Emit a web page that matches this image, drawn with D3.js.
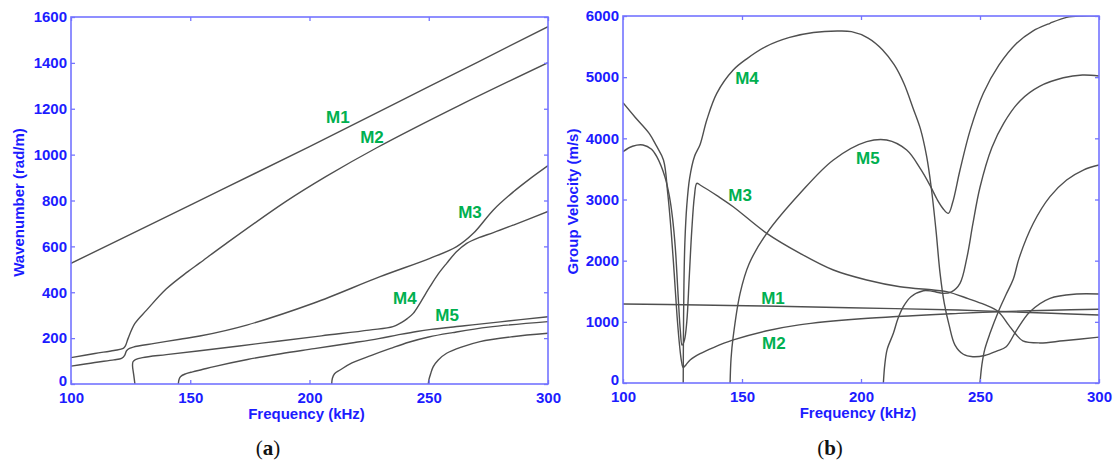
<!DOCTYPE html>
<html>
<head>
<meta charset="utf-8">
<script src="https://cdn.jsdelivr.net/npm/d3@7"></script>
<style>
  body { margin: 0; background: #fff; }
</style>
</head>
<body>
<div id="my_dataviz"></div>
<script>
const width = 1115
const height = 466

// tick values
const freqTicks = [100, 150, 200, 250, 300];
const waveTicks = [0, 200, 400, 600, 800, 1000, 1200, 1400, 1600];
const velTicks = [0, 1000, 2000, 3000, 4000, 5000, 6000];

// (a) wavenumber curves, [frequency kHz, wavenumber rad/m]
const waveM1 = [[100,526],[150,780],[200,1035],[250,1296],[300,1558]];
const waveM2 = [[100,115],[110,133],[118,146],[121.9,155],[122.8,166],[124,200],[126.8,264],[131.7,322],[140,415],[149,490],[154,528],[165,612],[190,795],[207,905],[228.2,1030],[263.1,1216],[300,1401]];
const waveM3 = [[100,78],[110,94],[118,105],[121.2,112],[122.5,125],[123.3,145],[124.5,155],[126.1,161],[135,177],[145.7,195],[154,209],[173.7,257],[201.6,352],[229.6,468],[250.5,548],[261.7,599],[268.7,657],[277.1,759],[285.5,838],[291.7,889],[300,952]];
const waveM4 = [[126.8,0],[126.3,40],[125.8,80],[126,97],[127,106],[130,115],[140,128],[154,145],[180,178],[205,210],[225,235],[235,250],[238.5,268],[241,285],[243.5,308],[246.3,352],[250.5,424],[254,480],[257.5,526],[261.5,575],[265.9,613],[271,638],[277.1,660],[285.5,693],[300,752]];
const waveM5 = [[145,0],[145.3,20],[146,33],[148,44],[151,53],[155,63],[160,76],[174,107],[188,132],[202,154],[219,181],[229,198],[237,214],[245,229],[251,238],[265,254],[280,271],[300,293]];
const waveM6 = [[209.3,0],[209.6,25],[210.5,45],[212.8,61],[217.8,92],[226,125],[234,155],[241.6,182],[250,205],[260,224],[275,248],[300,272]];
const waveM7 = [[249.8,0],[250.1,20],[250.8,45],[251.9,76],[254,105],[257.5,134],[264,162],[271.5,185],[285,206],[300,221]];

// (b) group velocity curves, [frequency kHz, velocity m/s]
const velM1 = [[100,1292],[132,1275],[160,1258],[195,1231],[241,1193],[258,1170],[280,1140],[300,1112]];
const velM2 = [[100,4583],[105,4350],[111,4082],[114,3880],[117,3646],[118.8,3100],[120.2,2500],[121.5,1800],[122.7,1100],[123.8,600],[124.6,350],[125.3,256],[126.5,300],[128.2,376],[132.4,480],[138,580],[146,700],[160,850],[174,950],[200,1050],[241,1139],[258,1166],[280,1190],[300,1205]];
const velM3 = [[100,3782],[104,3870],[108.4,3891],[112,3820],[114.2,3700],[117.6,3373],[119.5,3050],[120.8,2700],[122,2200],[123.2,1400],[124.1,850],[124.8,620],[125.8,700],[126.8,1000],[127.8,1700],[128.9,2500],[130,3050],[131,3265],[132.4,3237],[140,3050],[146.3,2882],[160.4,2447],[174.4,2120],[188.4,1847],[202.4,1684],[216.4,1574],[230.4,1520],[236,1493],[245,1380],[252,1280],[257.7,1166],[262,950],[265,800],[268,690],[275,655],[285,690],[300,750]];
const velM4 = [[125.3,0],[125.4,800],[125.6,1600],[126,2300],[126.8,2900],[128,3350],[130,3700],[132.4,3900],[135.2,4300],[139.4,4736],[146.3,5117],[152,5300],[160,5500],[170,5650],[180,5730],[190,5755],[196,5744],[203,5640],[209,5450],[214,5200],[218,4900],[222,4480],[225,4150],[227.6,3700],[229.5,3200],[231.5,2500],[233.2,1800],[235,1300],[237,950],[239.5,620],[243,470],[247,430],[252,450],[257,520],[261,593],[265.4,866],[271,1166],[279.4,1385],[290.6,1455],[300,1455]];
const velM5 = [[145,0],[145.4,400],[146.3,757],[149.2,1466],[153,1950],[160.4,2447],[174.4,3101],[188.4,3646],[202.4,3945],[210.8,3973],[219.2,3809],[225,3500],[229,3230],[232,3000],[234.5,2850],[236.7,2774],[238.5,2950],[241.6,3482],[246,4150],[251.4,4736],[258,5200],[265.4,5554],[272,5750],[279.4,5881],[286.4,5978],[293,6000],[300,6000]];
const velM6 = [[209.4,0],[210,300],[211,550],[213.6,812],[215.5,1050],[217.8,1248],[221,1410],[226.2,1509],[230,1500],[234.6,1466],[238,1490],[241.6,1630],[244.5,2050],[247,2600],[250,3200],[255,3850],[260,4250],[267,4620],[275,4850],[285,4990],[293,5035],[300,5020]];
const velM7 = [[250,0],[250.8,300],[252,550],[254.2,812],[257.7,1166],[261,1450],[264,1700],[266.5,2050],[272.4,2611],[279.4,3046],[286.4,3319],[293.4,3482],[300,3564]];

// mode labels, [text, frequency, value]
const waveLabels = [["M1",211.9,1164],["M2",226.2,1077],["M3",267.3,750],["M4",240,375],["M5",257.7,301]];
const velLabels = [["M4",152.1,4986],["M5",202.9,3678],["M3",149.2,3074],["M1",163,1390],["M2",163.4,654]];

const frameBlue = "#7474ff"
const textBlue = "#1c1cff"
const modeGreen = "#00b050"
const curveGrey = "#4f4f4f"
const sans = "'Liberation Sans', Arial, sans-serif"

document.addEventListener('DOMContentLoaded', function () {
    var svg = d3.select("#my_dataviz").append("svg")
        .attr("width", width)
        .attr("height", height)

    drawPanel(svg, {left: 71, right: 548, top: 17, bottom: 384}, 1600, waveTicks,
        "Wavenumber (rad/m)", 19,
        [waveM1, waveM2, waveM3, waveM4, waveM5, waveM6, waveM7], waveLabels, "a", 268)

    drawPanel(svg, {left: 623, right: 1099, top: 16, bottom: 383}, 6000, velTicks,
        "Group Velocity (m/s)", 573,
        [velM1, velM2, velM3, velM4, velM5, velM6, velM7], velLabels, "b", 830)
});

function styleAxis(g) {
    g.select(".domain").remove()
    g.style("color", frameBlue)
    g.selectAll(".tick line").attr("stroke-width", 1.3)
    g.selectAll("text")
        .attr("fill", textBlue)
        .style("font-family", sans)
        .style("font-size", "15px")
        .style("font-weight", "bold")
}

function drawPanel(svg, box, yMax, yTicks, yTitle, yTitleX, modes, labels, letter, letterX) {
    var xScale = d3.scaleLinear().domain([100, 300]).range([box.left, box.right]);
    var yScale = d3.scaleLinear().domain([0, yMax]).range([box.bottom, box.top]);
    var plain = d3.format("d")

    var clipId = "clip_" + letter
    svg.append("clipPath").attr("id", clipId)
        .append("rect")
        .attr("x", box.left)
        .attr("y", box.top)
        .attr("width", box.right - box.left)
        .attr("height", box.bottom - box.top)

    var line = d3.line()
        .x(function(d){return xScale(d[0])})
        .y(function(d){return yScale(d[1])})
        .curve(d3.curveCatmullRom.alpha(0.5))

    svg.append("g")
        .attr("clip-path", "url(#" + clipId + ")")
        .selectAll("path")
        .data(modes)
        .join("path")
            .attr("d", line)
            .attr("fill", "none")
            .attr("stroke", curveGrey)
            .attr("stroke-width", 1.4)

    // inward ticks on all four sides
    svg.append("g")
        .attr("transform", "translate(0," + box.bottom + ")")
        .call(d3.axisBottom(xScale).tickValues(freqTicks).tickFormat(plain).tickSizeInner(-4).tickSizeOuter(0).tickPadding(8))
        .call(styleAxis)
    svg.append("g")
        .attr("transform", "translate(0," + box.top + ")")
        .call(d3.axisTop(xScale).tickValues(freqTicks).tickSizeInner(-4).tickSizeOuter(0).tickFormat(""))
        .call(styleAxis)
    var yAxis = svg.append("g")
        .attr("transform", "translate(" + box.left + ",0)")
        .call(d3.axisLeft(yScale).tickValues(yTicks).tickFormat(plain).tickSizeInner(-4).tickSizeOuter(0).tickPadding(4))
        .call(styleAxis)
    // the zero label sits a little above the corner, clear of the first frequency label
    yAxis.selectAll(".tick text").filter(function(d){return d === 0}).attr("dy", "0.1em")
    svg.append("g")
        .attr("transform", "translate(" + box.right + ",0)")
        .call(d3.axisRight(yScale).tickValues(yTicks).tickSizeInner(-4).tickSizeOuter(0).tickFormat(""))
        .call(styleAxis)

    svg.append("rect")
        .attr("x", box.left)
        .attr("y", box.top)
        .attr("width", box.right - box.left)
        .attr("height", box.bottom - box.top)
        .attr("fill", "none")
        .attr("stroke", frameBlue)
        .attr("stroke-width", 1.6)

    // mode labels
    svg.append("g")
        .selectAll("text")
        .data(labels)
        .join("text")
            .attr("x", function(d){return xScale(d[1])})
            .attr("y", function(d){return yScale(d[2])})
            .attr("dy", "0.35em")
            .attr("text-anchor", "middle")
            .style("font-family", sans)
            .style("font-size", "17px")
            .style("font-weight", "bold")
            .attr("fill", modeGreen)
            .text(function(d){return d[0]})

    // axis titles
    svg.append("text")
        .attr("x", (box.left + box.right) / 2 - 3)
        .attr("y", box.bottom + 35)
        .attr("text-anchor", "middle")
        .style("font-family", sans)
        .style("font-size", "15px")
        .style("font-weight", "bold")
        .attr("fill", textBlue)
        .text("Frequency (kHz)")

    svg.append("text")
        .attr("transform", "translate(" + yTitleX + "," + ((box.top + box.bottom) / 2 + 2) + ") rotate(-90)")
        .attr("dy", "0.35em")
        .attr("text-anchor", "middle")
        .style("font-family", sans)
        .style("font-size", "15px")
        .style("font-weight", "bold")
        .attr("fill", textBlue)
        .text(yTitle)

    // caption (a) / (b)
    var cap = svg.append("text")
        .attr("x", letterX)
        .attr("y", 455)
        .attr("text-anchor", "middle")
        .style("font-family", "'Liberation Serif', 'Times New Roman', serif")
        .style("font-size", "21px")
        .attr("fill", "#111")
    cap.append("tspan").text("(")
    cap.append("tspan").style("font-weight", "bold").text(letter)
    cap.append("tspan").text(")")
}
</script>
</body>
</html>
